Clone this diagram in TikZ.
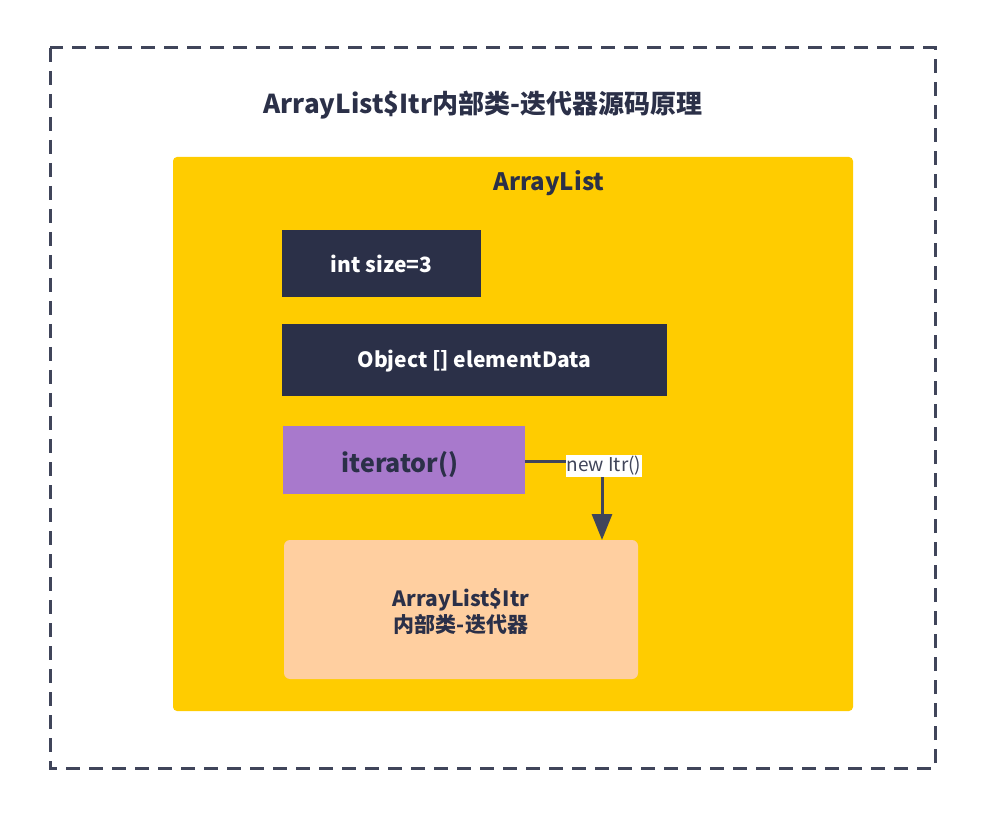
\documentclass[tikz,border=0pt]{standalone}
\usepackage{fontspec}
\setmainfont{Noto Sans CJK SC}
\usetikzlibrary{arrows.meta}
\definecolor{yel}{HTML}{FFCC00}
\definecolor{dark}{HTML}{2B3048}
\definecolor{purp}{HTML}{A879CC}
\definecolor{peach}{HTML}{FFCFA0}
\tikzset{darkbox/.style={fill=dark,draw=none,text=white,font=\bfseries\fontsize{21}{25}\selectfont}}
\begin{document}
\begin{tikzpicture}[x=1pt,y=-1pt]
\useasboundingbox (0,0) rectangle (986,818);
\draw[line width=3pt,dash pattern=on 14pt off 9pt,color=dark!90] (50,48) rectangle (935,768);
\node[font=\bfseries\fontsize{26}{30}\selectfont,text=dark] (title) at (483,105) {ArrayList\$Itr内部类-迭代器源码原理};
\fill[yel,rounded corners=4pt] (173,157) rectangle (853,711);
\node[font=\bfseries\fontsize{24}{28}\selectfont,text=dark] (al) at (549,183) {ArrayList};
\fill[dark] (282,230) rectangle (481,297);
\node[darkbox] (size) at (381.5,264) {int size=3};
\fill[dark] (282,324) rectangle (667,396);
\node[darkbox] (data) at (474.5,361) {Object [] elementData};
\fill[purp] (283,426) rectangle (525,494);
\coordinate (pr) at (525,461);
\node[font=\bfseries\fontsize{25}{29}\selectfont,text=dark] (iter) at (400,465) {iterator()};
\fill[peach,rounded corners=6pt] (284,540) rectangle (638,679);
\coordinate (pt) at (602,540);
\node[font=\bfseries\fontsize{21}{26}\selectfont,text=dark,align=center] (itr) at (461,612) {ArrayList\$Itr\\内部类-迭代器};
\draw[line width=3pt,color=dark!90,-{Triangle[length=26pt,width=20pt]}] (pr) -- (602,461) -- (pt);
\node[fill=white,inner sep=1pt,font=\fontsize{19}{22}\selectfont,text=dark!90] (lbl) at (604,466) {new Itr()};
\end{tikzpicture}
\end{document}
